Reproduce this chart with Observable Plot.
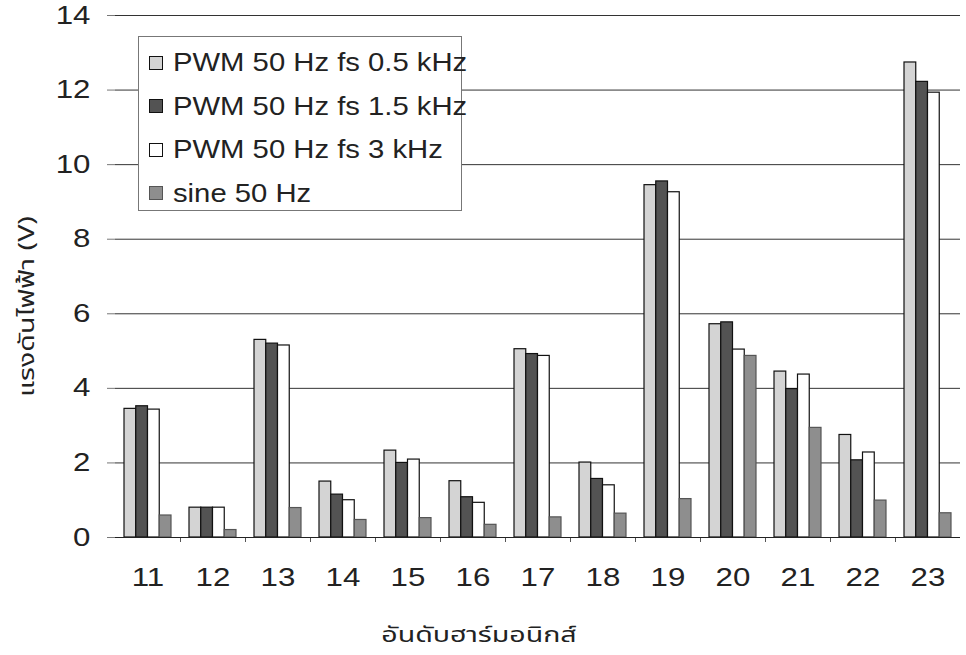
<!DOCTYPE html>
<html>
<head>
<meta charset="utf-8">
<script src="https://cdn.jsdelivr.net/npm/d3@7"></script>
<script src="https://cdn.jsdelivr.net/npm/@observablehq/plot@0.6"></script>
<style>
  body { margin: 0; background: #fff; }
  #wrap { position: relative; width: 966px; height: 655px; background: #fff; }
  #legend { position: absolute; left: 138px; top: 36px; width: 324px; height: 175px; box-sizing: border-box;
            background: #fff; border: 1px solid #777; font-family: "Liberation Sans", Arial, sans-serif;
            font-size: 25px; color: #222; }
  .item { position: absolute; left: 10px; height: 30px; display: flex; align-items: center; }
  .sw { width: 14px; height: 14px; border: 1px solid #222; box-sizing: border-box; flex: none; }
  .lab { margin-left: 10px; transform: scaleX(1.17); transform-origin: left center; white-space: nowrap; }
</style>
</head>
<body>
<div id="wrap"></div>
<script>
const harmonics = [11, 12, 13, 14, 15, 16, 17, 18, 19, 20, 21, 22, 23];
const seriesNames = ["PWM 50 Hz fs 0.5 kHz", "PWM 50 Hz fs 1.5 kHz", "PWM 50 Hz fs 3 kHz", "sine 50 Hz"];
const pwm05 = [3.45, 0.80, 5.30, 1.50, 2.33, 1.51, 5.05, 2.01, 9.45, 5.72, 4.45, 2.75, 12.74];
const pwm15 = [3.52, 0.80, 5.20, 1.15, 2.00, 1.08, 4.92, 1.57, 9.55, 5.77, 3.98, 2.07, 12.22];
const pwm3  = [3.43, 0.80, 5.15, 1.00, 2.09, 0.93, 4.87, 1.40, 9.26, 5.04, 4.37, 2.28, 11.93];
const sine  = [0.59, 0.20, 0.79, 0.47, 0.52, 0.34, 0.54, 0.64, 1.03, 4.87, 2.94, 0.99, 0.65];
const yTicks = [0, 2, 4, 6, 8, 10, 12, 14];
const xTitle = "อันดับฮาร์มอนิกส์";
const yTitle = "แรงดันไฟฟ้า (V)";

const seriesValues = [pwm05, pwm15, pwm3, sine];
const fills = ["#d4d4d4", "#535353", "#ffffff", "#8e8e8e"];
const strokes = ["#111", "#111", "#111", "#555"];
const groupWidth = 0.723, barW = groupWidth / 4;
const rows = seriesValues.flatMap((vals, s) => vals.map((v, i) => ({
  h: harmonics[i], s, series: seriesNames[s], v,
  x1: harmonics[i] - groupWidth / 2 + s * barW,
  x2: harmonics[i] - groupWidth / 2 + (s + 1) * barW
})));
const boundaries = harmonics.slice(0, -1).map(h => h + 0.5);
const thaiFont = "'Noto Sans Thai', 'Noto Serif Thai', Loma, Garuda, Kinnari, 'Liberation Sans', sans-serif";

const chart = Plot.plot({
  width: 966, height: 655,
  marginLeft: 115, marginRight: 6, marginTop: 15, marginBottom: 118,
  style: { fontFamily: "'Liberation Sans', Arial, sans-serif", fontSize: "25px", color: "#222", background: "#fff" },
  x: { type: "linear", domain: [10.5, 23.5] },
  y: { domain: [0, 14] },
  color: { type: "ordinal", domain: seriesNames, range: fills },
  marks: [
    Plot.gridY(yTicks, { stroke: "#333", strokeOpacity: 1 }),
    Plot.axisY(yTicks, { tickSize: 8, tickPadding: 17, stroke: "#777", label: null, fontSize: 25 }),
    Plot.axisX(harmonics, { tickSize: 0, tickPadding: 31, label: null, fontSize: 25 }),
    Plot.axisX(boundaries, { tickSize: 5, tickFormat: () => "", label: null, stroke: "#555" }),
    ...seriesNames.map((name, s) => Plot.rect(rows.filter(d => d.s === s), {
      x1: "x1", x2: "x2", y1: () => 0, y2: "v", fill: "series", stroke: strokes[s], strokeWidth: 1.2
    })),
    Plot.ruleY([0], { stroke: "#222", strokeWidth: 1.2 }),
    Plot.text([xTitle], { text: d => d, frameAnchor: "bottom", textAnchor: "middle",
      dx: -59, dy: 104, fontSize: 22, fontFamily: thaiFont, fill: "#222" }),
    Plot.text([yTitle], { text: d => d, frameAnchor: "left", textAnchor: "middle",
      rotate: -90, dx: -89, dy: 30, fontSize: 22, fontFamily: thaiFont, fill: "#222" })
  ]
});

// widen lettering along the text direction to match the reference's stretched type
function stretchEl(el, s) {
  const t = el.getAttribute("transform") || "";
  const xa = el.getAttribute("x");
  if (xa != null && xa !== "" && !isNaN(+xa)) {
    el.setAttribute("x", 0);
    el.setAttribute("transform", `${t} translate(${xa},0) scale(${s},1)`);
  } else {
    el.setAttribute("transform", `${t} scale(${s},1)`);
  }
}
chart.querySelectorAll('g[aria-label="x-axis tick label"] text, g[aria-label="y-axis tick label"] text')
  .forEach(el => stretchEl(el, 1.25));
chart.querySelectorAll("text").forEach(el => {
  if (el.textContent === xTitle || el.textContent === yTitle) stretchEl(el, 1.3);
});

const wrap = document.getElementById("wrap");
wrap.appendChild(chart);

const legend = document.createElement("div");
legend.id = "legend";
seriesNames.forEach((name, i) => {
  const item = document.createElement("div");
  item.className = "item";
  item.style.top = (26.5 + i * 43.5 - 16) + "px";
  const sw = document.createElement("div");
  sw.className = "sw";
  sw.style.background = fills[i];
  sw.style.borderColor = strokes[i];
  const lab = document.createElement("span");
  lab.className = "lab";
  lab.textContent = name;
  item.appendChild(sw);
  item.appendChild(lab);
  legend.appendChild(item);
});
wrap.appendChild(legend);
</script>
</body>
</html>
